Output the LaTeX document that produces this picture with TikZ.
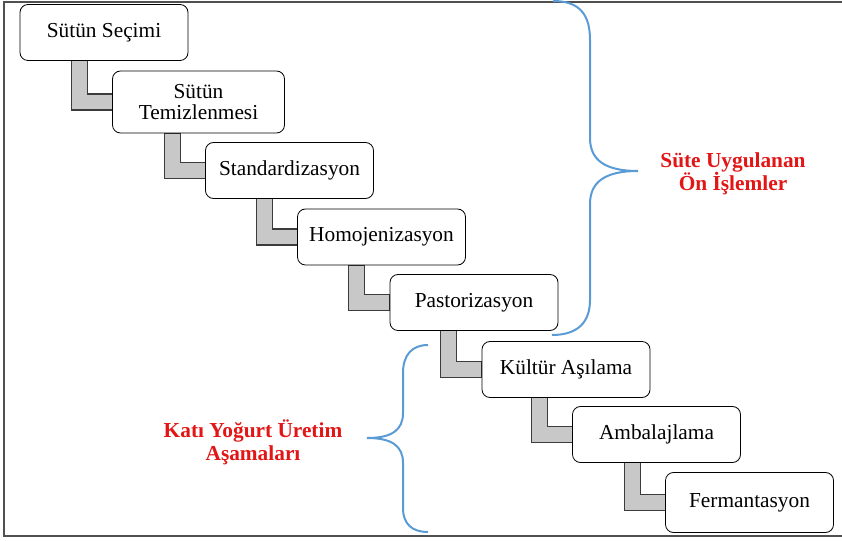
\documentclass[tikz,border=0pt]{standalone}
\usepackage{fontspec}
\setmainfont{Liberation Serif}
\usetikzlibrary{calc, backgrounds}
\definecolor{bracecol}{RGB}{91,155,213}
\definecolor{labelred}{RGB}{226,22,22}
\definecolor{linkfill}{RGB}{200,200,200}
\definecolor{linkline}{RGB}{60,60,60}
\definecolor{framecol}{RGB}{80,80,80}

% L-shaped gray link from box #1 down and right into box #2
\newcommand{\bendlink}[2]{%
  \draw[link] ($(#1.south -| #2.west)+(-41,0)$) coordinate (p#1) -- ++(16,0)
    |- ($(#2.west)+(0,-8)$) -- ($(#2.west)+(0,8)$) -| (p#1) -- cycle;}

\begin{document}
\begin{tikzpicture}[x=0.75pt, y=-0.75pt]
        \tikzstyle{stage}=[draw, fill=white, rounded corners=6pt, line width=0.6pt,
          minimum width=126pt, minimum height=42pt, align=center,
          font=\fontsize{16}{16}\selectfont]
        \tikzstyle{link}=[fill=linkfill, draw=linkline, line width=0.8pt]
        \tikzstyle{brace}=[draw=bracecol, line width=1.5pt]
        \tikzstyle{grouplabel}=[text=labelred, align=center,
          font=\fontsize{16}{17.5}\selectfont\bfseries]

        \useasboundingbox (0,0) rectangle (842,541);
        \draw[framecol, line width=1.2pt] (842,2) -- (4,2) -- (4,536) -- (842,536);

        \node[stage] (s1) at (104,32.5) {Sütün Seçimi};
        \node[stage, minimum height=46.5pt, minimum width=129pt] (s2) at (198.5,102) {Sütün\\Temizlenmesi};
        \node[stage] (s3) at (289.5,170.5) {Standardizasyon};
        \node[stage] (s4) at (381.5,237) {Homojenizasyon};
        \node[stage] (s5) at (474,302.5) {Pastorizasyon};
        \node[stage] (s6) at (566,369.5) {Kültür Aşılama};
        \node[stage] (s7) at (656.5,434.5) {Ambalajlama};
        \node[stage, minimum height=45pt] (s8) at (749.5,502.5) {Fermantasyon};

        % links go behind the boxes
        \begin{scope}[on background layer]
          \foreach \a/\b in {s1/s2, s2/s3, s3/s4, s4/s5, s5/s6, s6/s7, s7/s8}
            {\bendlink{\a}{\b}}
        \end{scope}

        % braces
        \draw[brace] (553,1) .. controls (580,1) and (590,15) .. (590,40) -- (590,138)
          .. controls (590,160) and (605,171) .. (638,171)
          .. controls (605,171) and (590,182) .. (590,204) -- (590,300)
          .. controls (590,322) and (578,335) .. (552,335);
        \draw[brace] (428,345) .. controls (412,345) and (403,355) .. (403,373) -- (403,413)
          .. controls (403,430) and (392,438) .. (367,438)
          .. controls (392,438) and (403,446) .. (403,463) -- (403,508)
          .. controls (403,524) and (412,532) .. (428,532);

        \node[grouplabel] (preLabel) at (733,174) {Süte Uygulanan\\Ön İşlemler};
        \node[grouplabel] (yogLabel) at (253,442) {Katı Yoğurt Üretim\\Aşamaları};
\end{tikzpicture}
\end{document}
